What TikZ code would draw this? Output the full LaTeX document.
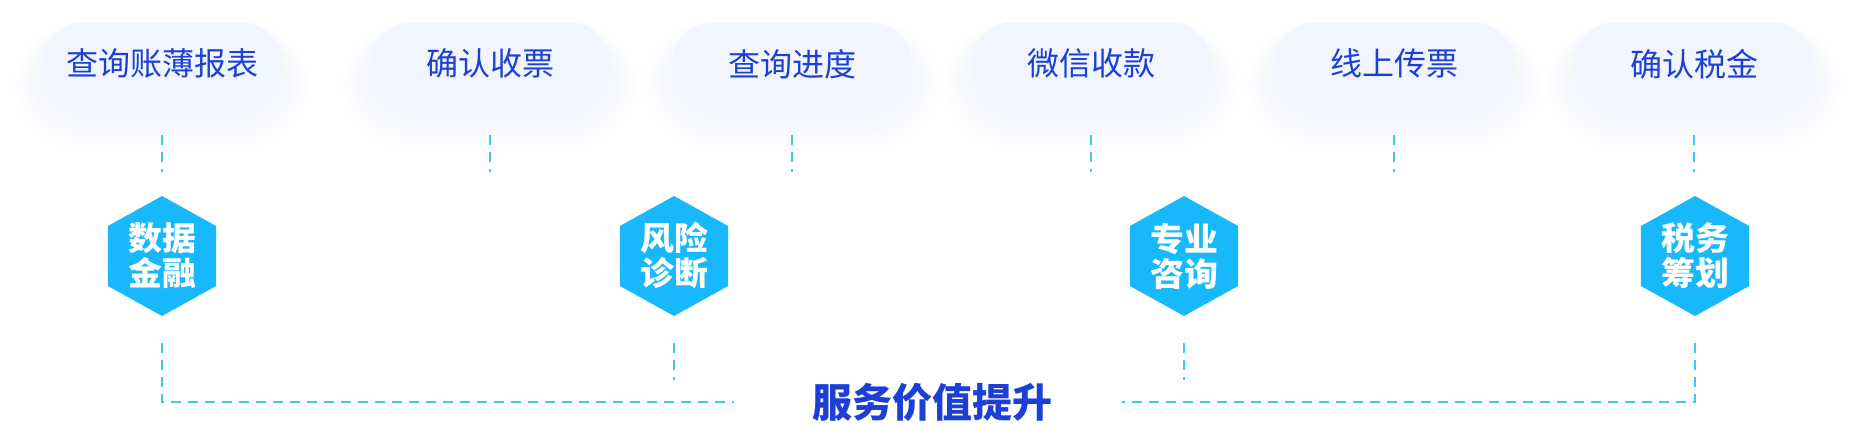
\documentclass[tikz,border=0pt]{standalone}
\usepackage{fontspec}
\newfontfamily\cjk{Noto Sans CJK SC}
\usetikzlibrary{shapes.geometric}
\definecolor{pilltext}{HTML}{1C40D6}
\definecolor{pillfill}{HTML}{F0F5FF}
\definecolor{hexfill}{HTML}{17B9FC}
\definecolor{dashc}{HTML}{36CCF5}
\definecolor{shadowc}{HTML}{BCCBEF}
\tikzset{
  pill/.style={fill=pillfill, rounded corners=21pt, minimum width=120pt, minimum height=42pt,
    inner sep=0pt, text=pilltext, font=\cjk\fontsize{16}{18}\selectfont},
  hexbox/.style={regular polygon, regular polygon sides=6, shape border rotate=90,
    fill=hexfill, minimum size=60pt, inner sep=0pt, text=white, align=center,
    font=\cjk\bfseries\fontsize{16.3}{17.5}\selectfont},
  titlebox/.style={inner sep=0pt, text=pilltext, font=\cjk\bfseries\fontsize{20}{22}\selectfont},
  dashline/.style={draw=dashc, line width=1pt, dash pattern=on 5pt off 3.5pt},
}
\begin{document}
\begin{tikzpicture}[x=0.5pt,y=-0.5pt]
\useasboundingbox (0,0) rectangle (1856,428);
% soft glow below the pills
\foreach \cx in {162,490,792,1091,1394,1694}{
  \foreach \k in {1,...,12}{
    \fill[shadowc, opacity=0.016, rounded corners={21pt+1.2pt*\k}]
      (\cx-118-\k*2.5, 22+14-\k*1.2) rectangle (\cx+118+\k*2.5, 106+6+\k*3);
  }
}
% pills
\node[pill] (p1) at (162,64) {\raisebox{1.5pt}{查询账薄报表}};
\node[pill] (p2) at (490,64) {\raisebox{1.5pt}{确认收票}};
\node[pill] (p3) at (792,64) {\raisebox{1.5pt}{查询进度}};
\node[pill] (p4) at (1091,64) {\raisebox{1.5pt}{微信收款}};
\node[pill] (p5) at (1394,64) {\raisebox{1.5pt}{线上传票}};
\node[pill] (p6) at (1694,64) {\raisebox{1.5pt}{确认税金}};
% stubs under pills
\foreach \p in {p1,p2,p3,p4,p5,p6}{
  \draw[dashline] ([yshift=-14.5pt]\p.south) -- ++(0,37);
}
% hexagons
\node[hexbox, xscale=1.04] (h1) at (162,256) {数据\\金融};
\node[hexbox, xscale=1.04] (h2) at (674,256) {风险\\诊断};
\node[hexbox, xscale=1.04] (h3) at (1184,256) {专业\\咨询};
\node[hexbox, xscale=1.04] (h4) at (1695,256) {税务\\筹划};
% title
\node[titlebox] (t) at (932,402) {服务价值提升};
% connectors below hexagons
\draw[dashline] ([yshift=-13.5pt]h1.south) |- ([xshift=-39pt]t.west);
\draw[dashline] ([yshift=-13.5pt]h4.south) |- ([xshift=35pt]t.east);
\draw[dashline] ([yshift=-13.5pt]h2.south) -- ++(0,37);
\draw[dashline] ([yshift=-13.5pt]h3.south) -- ++(0,37);
\end{tikzpicture}
\end{document}
